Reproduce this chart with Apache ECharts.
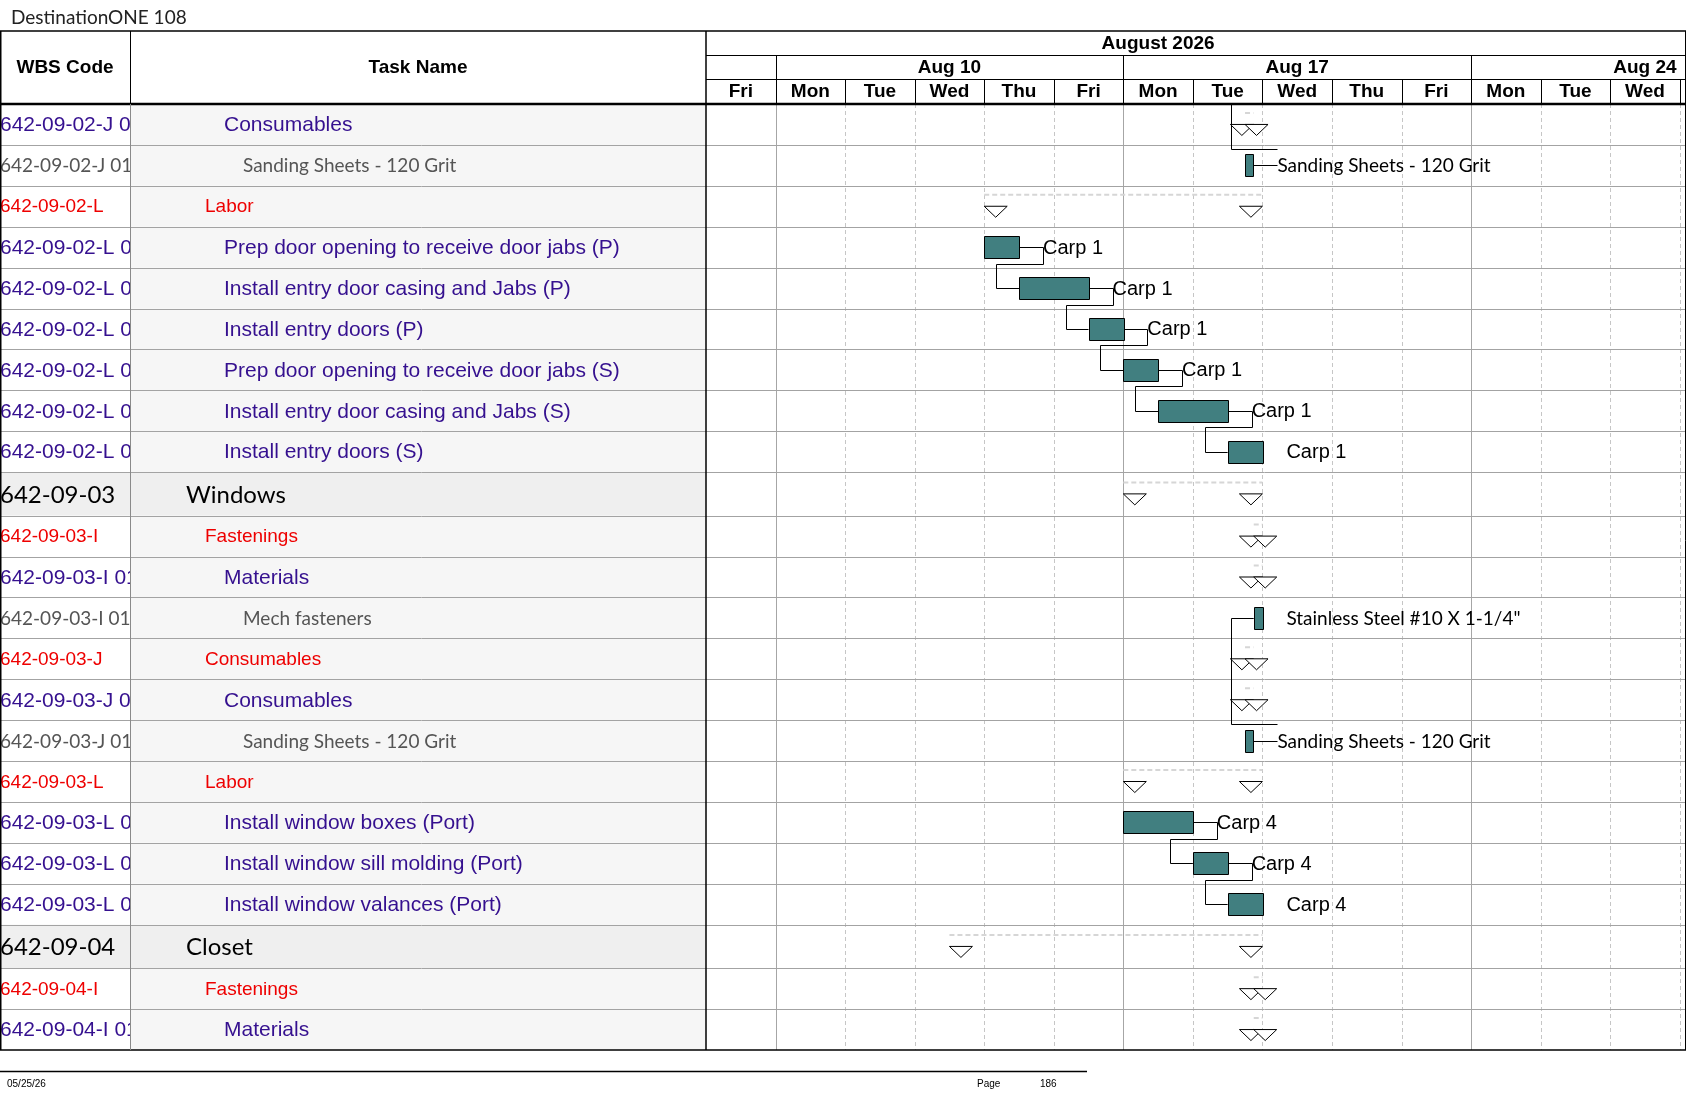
<!DOCTYPE html>
<html>
<head>
<meta charset="utf-8">
<title>DestinationONE 108</title>
<script src="https://cdn.jsdelivr.net/npm/echarts@6.0.0/dist/echarts.min.js"></script>
<style>
  html, body { margin: 0; padding: 0; background: #fff; }
  #main { width: 1687px; height: 1097px; }
</style>
</head>
<body>
<div id="main"></div>
<script>
// timescale: working days only (weekends are hidden), day 0 = Fri Aug 7
var monthName = 'August 2026';
var monthLabelAt = 6.5;
var dayNames = ['Fri', 'Mon', 'Tue', 'Wed', 'Thu', 'Fri', 'Mon', 'Tue', 'Wed', 'Thu', 'Fri', 'Mon', 'Tue', 'Wed'];
var weekStarts = [1, 6, 11];
var weekNames = ['Aug 10', 'Aug 17', 'Aug 24'];
var visibleDays = 14.09;

// table
var wbsCodes = [
  '642-09-02-J 01', '642-09-02-J 01-01', '642-09-02-L', '642-09-02-L 01', '642-09-02-L 02',
  '642-09-02-L 03', '642-09-02-L 04', '642-09-02-L 05', '642-09-02-L 06', '642-09-03',
  '642-09-03-I', '642-09-03-I 01', '642-09-03-I 01-01', '642-09-03-J', '642-09-03-J 01',
  '642-09-03-J 01-01', '642-09-03-L', '642-09-03-L 01', '642-09-03-L 02', '642-09-03-L 03',
  '642-09-04', '642-09-04-I', '642-09-04-I 01'
];
var taskNames = [
  'Consumables', 'Sanding Sheets - 120 Grit', 'Labor',
  'Prep door opening to receive door jabs (P)', 'Install entry door casing and Jabs (P)',
  'Install entry doors (P)', 'Prep door opening to receive door jabs (S)',
  'Install entry door casing and Jabs (S)', 'Install entry doors (S)', 'Windows',
  'Fastenings', 'Materials', 'Mech fasteners', 'Consumables', 'Consumables',
  'Sanding Sheets - 120 Grit', 'Labor', 'Install window boxes (Port)',
  'Install window sill molding (Port)', 'Install window valances (Port)', 'Closet',
  'Fastenings', 'Materials'
];
// grp = wbs group, lab = cost type, sub = task, res = material line
var rowLevels = [
  'sub', 'res', 'lab', 'sub', 'sub', 'sub', 'sub', 'sub', 'sub', 'grp',
  'lab', 'sub', 'res', 'lab', 'sub', 'res', 'lab', 'sub', 'sub', 'sub',
  'grp', 'lab', 'sub'
];

// gantt bars (in working days)
var barStart = [null, 7.75, null, 4, 4.5, 5.5, 6, 6.5, 7.5, null, null, null, 7.875, null, null, 7.75, null, 6, 7, 7.5, null, null, null];
var barEnd   = [null, 7.87, null, 4.5, 5.5, 6, 6.5, 7.5, 8, null, null, null, 8, null, null, 7.87, null, 7, 7.5, 8, null, null, null];
var barLabels = ['', 'Sanding Sheets - 120 Grit', '', 'Carp 1', 'Carp 1', 'Carp 1', 'Carp 1', 'Carp 1', 'Carp 1', '',
  '', '', 'Stainless Steel #10 X 1-1/4"', '', '', 'Sanding Sheets - 120 Grit', '', 'Carp 4', 'Carp 4', 'Carp 4', '', '', ''];
// summary spans
var sumStart = [7.75, null, 4, null, null, null, null, null, null, 6, 7.875, 7.875, null, 7.75, 7.75, null, 6, null, null, null, 3.5, 7.875, 7.875];
var sumEnd   = [7.87, null, 8, null, null, null, null, null, null, 8, 8, 8, null, 7.87, 7.87, null, 8, null, null, null, 8, 8, 8];

// finish-to-start links; row -2 is the material line on the previous page
var linkFrom = [3, 4, 5, 6, 7, 17, 18, 15, 1];
var linkTo   = [4, 5, 6, 7, 8, 18, 19, 12, -2];
var prevPageStart = 7.875;

var levelStyle = {
  grp: { color: '#000000', font: 'Lato', size: 24, indent: 186, bg: '#efefef', wbsBg: '#efefef' },
  lab: { color: '#ee0000', font: 'Liberation Sans', size: 19, indent: 205, bg: '#f6f6f6', wbsBg: '#ffffff' },
  sub: { color: '#35108f', font: 'Liberation Sans', size: 21, indent: 224, bg: '#f6f6f6', wbsBg: '#ffffff' },
  res: { color: '#555555', font: 'Lato', size: 19, indent: 243, bg: '#f6f6f6', wbsBg: '#ffffff' }
};

var GROUP_UNIT = 1.064;
var rowUnits = rowLevels.map(function (l) { return l === 'grp' ? GROUP_UNIT : 1; });
var rowTop = [];
var acc = 0;
rowUnits.forEach(function (u) { rowTop.push(acc); acc += u; });
var totalUnits = acc;

var GL = 706, GT = 104, GR = 1686, GB = 1050;
var BAR_FILL = '#417f80';

function px(api, day) { return api.coord([day, 0])[0]; }
function py(api, units) { return api.coord([0, units])[1]; }
function topOf(i) { return i >= 0 ? rowTop[i] : i; }
function unitsOf(i) { return i >= 0 ? rowUnits[i] : 1; }
function midPx(api, i) { return py(api, topOf(i) + unitsOf(i) / 2); }
function font(st) { return st.size + 'px "' + st.font + '"'; }
function txt(text, x, y, fill, f, align) {
  return { type: 'text', style: { text: text, x: x, y: y, fill: fill, font: f,
    align: align || 'left', verticalAlign: 'middle', textAlign: align || 'left', textVerticalAlign: 'middle' } };
}
function seg(x1, y1, x2, y2, stroke, w, dash) {
  return { type: 'line', shape: { x1: x1, y1: y1, x2: x2, y2: y2 },
    style: { stroke: stroke, lineWidth: w || 1, lineDash: dash || null } };
}
function rowIdx(arr) { return arr.map(function (v, i) { return [i]; }); }
function rowsWhere(arr) {
  var out = [];
  arr.forEach(function (v, i) { if (v !== null) out.push([i]); });
  return out;
}

function renderWbs(params, api) {
  var i = api.value(0), st = levelStyle[rowLevels[i]];
  var y0 = py(api, rowTop[i]), y1 = py(api, rowTop[i] + rowUnits[i]);
  return { type: 'group', children: [
    { type: 'rect', shape: { x: 0, y: y0, width: 130, height: y1 - y0 }, style: { fill: st.wbsBg } },
    txt(wbsCodes[i], 0, (y0 + y1) / 2 + 1, st.color, font(st))
  ] };
}

function renderTask(params, api) {
  var i = api.value(0), st = levelStyle[rowLevels[i]];
  var y0 = py(api, rowTop[i]), y1 = py(api, rowTop[i] + rowUnits[i]);
  return { type: 'group', children: [
    { type: 'rect', shape: { x: 130, y: y0, width: GL - 130, height: y1 - y0 }, style: { fill: st.bg } },
    txt(taskNames[i], st.indent, (y0 + y1) / 2 + 1, st.color, font(st))
  ] };
}

function renderRowLine(params, api) {
  var i = api.value(0);
  var y = Math.round(py(api, rowTop[i] + rowUnits[i])) + 0.5;
  return seg(0, y, GR, y, '#a3a3a3', 1);
}

function renderDayLine(params, api) {
  var d = api.value(0), x = Math.round(px(api, d)) + 0.5;
  var week = weekStarts.indexOf(d) >= 0;
  return { type: 'group', children: [
    week ? seg(x, GT, x, GB, '#a6a6a6', 1) : seg(x, GT, x, GB, '#c6c6c6', 1, [4, 3]),
    seg(x, 79, x, GT, '#000', 1)
  ] };
}

function renderDayName(params, api) {
  var i = api.value(0);
  return txt(dayNames[i], px(api, i + 0.5), 92, '#000', 'bold 19px "Liberation Sans"', 'center');
}

function renderWeek(params, api) {
  var k = api.value(0), ws = weekStarts[k], x = Math.round(px(api, ws)) + 0.5;
  return { type: 'group', children: [
    seg(x, 55, x, 79, '#000', 1),
    txt(weekNames[k], px(api, ws + 2.5), 67.5, '#000', 'bold 19px "Liberation Sans"', 'center')
  ] };
}

function renderMonth(params, api) {
  return txt(monthName, px(api, monthLabelAt), 43.5, '#000', 'bold 19px "Liberation Sans"', 'center');
}

function tri(x0, c) {
  return { type: 'polygon', shape: { points: [[x0, c], [x0 + 23, c], [x0 + 11.5, c + 11]] },
    style: { fill: '#fff', stroke: '#000', lineWidth: 1 } };
}

function renderSummary(params, api) {
  var i = api.value(0);
  var xs = px(api, sumStart[i]), xe = px(api, sumEnd[i]), c = midPx(api, i);
  return { type: 'group', children: [
    seg(xs, c - 11.5, xe, c - 11.5, '#d6d6d6', 2, [5, 3]),
    tri(xe - 23, c),
    tri(xs, c)
  ] };
}

function renderBar(params, api) {
  var i = api.value(0);
  var xs = px(api, barStart[i]), xe = px(api, barEnd[i]), c = midPx(api, i);
  var lf = rowLevels[i] === 'res' ? '19px "Lato"' : '20px "Liberation Sans"';
  return { type: 'group', children: [
    { type: 'rect', shape: { x: Math.round(xs) + 0.5, y: Math.round(c - 11) + 0.5, width: Math.round(xe - xs), height: 22 },
      style: { fill: BAR_FILL, stroke: '#000', lineWidth: 1 } },
    txt(barLabels[i], xe + 24, c + 1, '#000', lf)
  ] };
}

function renderLink(params, api) {
  var k = api.value(0), p = linkFrom[k], s = linkTo[k];
  var pe = px(api, barEnd[p]), pc = Math.round(midPx(api, p)) + 0.5;
  var ss = px(api, s >= 0 ? barStart[s] : prevPageStart);
  var sc = Math.round(midPx(api, s)) + 0.5;
  var x1 = Math.round(pe + 24) + 0.5, xv = Math.round(ss - 23) + 0.5;
  var st = { stroke: '#000', lineWidth: 1, fill: null };
  var first = { type: 'polyline', shape: { points: [[pe, pc], [x1, pc]] }, style: st };
  var yh, rest;
  if (s > p) {
    yh = Math.round(py(api, rowTop[s])) - 3.5;
    rest = [[x1, pc], [x1, yh], [xv, yh], [xv, sc], [ss, sc]];
  } else {
    yh = Math.round(py(api, rowTop[p])) + 4.5;
    rest = [[x1, yh], [xv, yh], [xv, sc], [ss, sc]];
  }
  return { type: 'group', children: [first, { type: 'polyline', shape: { points: rest }, style: st }] };
}

var dayBounds = [];
for (var d = 1; d <= Math.floor(visibleDays); d++) dayBounds.push([d]);

var chart = echarts.init(document.getElementById('main'));
chart.setOption({
  animation: false,
  backgroundColor: '#fff',
  title: {
    text: 'DestinationONE 108', left: 6, top: 3,
    textStyle: { fontFamily: 'Lato', fontWeight: 'normal', fontSize: 19, color: '#222' }
  },
  grid: { left: GL, top: GT, width: GR - GL, height: GB - GT },
  xAxis: { type: 'value', min: 0, max: visibleDays, show: false },
  yAxis: { type: 'value', min: 0, max: totalUnits, inverse: true, show: false },
  series: [
    { type: 'custom', name: 'wbs', z: 1, clip: false, renderItem: renderWbs, data: rowIdx(wbsCodes) },
    { type: 'custom', name: 'task', z: 2, clip: false, renderItem: renderTask, data: rowIdx(taskNames) },
    { type: 'custom', name: 'days', z: 3, clip: false, renderItem: renderDayLine, data: dayBounds },
    { type: 'custom', name: 'rows', z: 3, clip: false, renderItem: renderRowLine, data: rowIdx(rowLevels).slice(0, rowLevels.length - 1) },
    { type: 'custom', name: 'dayNames', z: 4, clip: false, renderItem: renderDayName, data: rowIdx(dayNames) },
    { type: 'custom', name: 'weeks', z: 4, clip: false, renderItem: renderWeek, data: rowIdx(weekNames) },
    { type: 'custom', name: 'month', z: 4, clip: false, renderItem: renderMonth, data: [[0]] },
    { type: 'custom', name: 'summary', z: 5, clip: true, renderItem: renderSummary, data: rowsWhere(sumStart) },
    { type: 'custom', name: 'links', z: 6, clip: true, renderItem: renderLink, data: rowIdx(linkFrom) },
    { type: 'custom', name: 'bars', z: 7, clip: true, renderItem: renderBar, data: rowsWhere(barStart) }
  ],
  graphic: [
    // header cells of the table
    { type: 'text', z: 10, style: { text: 'WBS Code', x: 65, y: 68, fill: '#000', font: 'bold 19px "Liberation Sans"', align: 'center', verticalAlign: 'middle', textAlign: 'center', textVerticalAlign: 'middle' } },
    { type: 'text', z: 10, style: { text: 'Task Name', x: 418, y: 68, fill: '#000', font: 'bold 19px "Liberation Sans"', align: 'center', verticalAlign: 'middle', textAlign: 'center', textVerticalAlign: 'middle' } },
    // frame
    { type: 'line', z: 10, shape: { x1: 0, y1: 31, x2: GR, y2: 31 }, style: { stroke: '#000', lineWidth: 1.5 } },
    { type: 'line', z: 10, shape: { x1: GL, y1: 55.5, x2: GR, y2: 55.5 }, style: { stroke: '#000', lineWidth: 1 } },
    { type: 'line', z: 10, shape: { x1: GL, y1: 79.5, x2: GR, y2: 79.5 }, style: { stroke: '#000', lineWidth: 1 } },
    { type: 'line', z: 10, shape: { x1: 0, y1: GT, x2: GR, y2: GT }, style: { stroke: '#000', lineWidth: 2.5 } },
    { type: 'line', z: 10, shape: { x1: 0, y1: GB, x2: GR, y2: GB }, style: { stroke: '#000', lineWidth: 1.5 } },
    { type: 'line', z: 10, shape: { x1: 0.75, y1: 31, x2: 0.75, y2: GB }, style: { stroke: '#000', lineWidth: 1.5 } },
    { type: 'line', z: 10, shape: { x1: GR - 0.5, y1: 31, x2: GR - 0.5, y2: GB }, style: { stroke: '#000', lineWidth: 1 } },
    { type: 'line', z: 10, shape: { x1: 130.5, y1: 31, x2: 130.5, y2: GT }, style: { stroke: '#000', lineWidth: 1 } },
    { type: 'line', z: 10, shape: { x1: 130.5, y1: GT, x2: 130.5, y2: GB }, style: { stroke: '#8a8a8a', lineWidth: 1 } },
    { type: 'line', z: 10, shape: { x1: GL, y1: 31, x2: GL, y2: GB }, style: { stroke: '#000', lineWidth: 1.5 } },
    // footer
    { type: 'line', z: 10, shape: { x1: 0, y1: 1071.5, x2: 1087, y2: 1071.5 }, style: { stroke: '#000', lineWidth: 1.5 } },
    { type: 'text', z: 10, style: { text: '05/25/26', x: 7, y: 1084.5, fill: '#000', font: '10px "Liberation Sans"', verticalAlign: 'middle', textVerticalAlign: 'middle' } },
    { type: 'text', z: 10, style: { text: 'Page', x: 977, y: 1084.5, fill: '#000', font: '10px "Liberation Sans"', verticalAlign: 'middle', textVerticalAlign: 'middle' } },
    { type: 'text', z: 10, style: { text: '186', x: 1040, y: 1084.5, fill: '#000', font: '10px "Liberation Sans"', verticalAlign: 'middle', textVerticalAlign: 'middle' } }
  ]
});
</script>
</body>
</html>
